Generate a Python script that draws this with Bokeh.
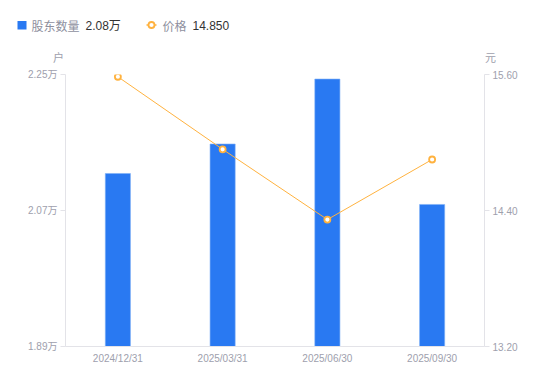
from bokeh.plotting import figure
from bokeh.layouts import column, row
from bokeh.models import (FactorRange, Range1d, LinearAxis, FixedTicker, NumeralTickFormatter)
from bokeh.embed import file_html
from bokeh.resources import INLINE
from bokeh.core.properties import value

dates = ["2024/12/31", "2025/03/31", "2025/06/30", "2025/09/30"]
holders = [2.119, 2.158, 2.244, 2.078]   # 万户
price = [15.58, 14.94, 14.32, 14.85]     # 元
left_ticks = [1.89, 2.07, 2.25]
right_ticks = [13.20, 14.40, 15.60]
series_names = ["股东数量", "价格"]
units = ["户", "元"]

BLUE = "#2979f2"
ORANGE = "#ffb23f"
GREY = "#9ea0ad"
AXIS = "#e3e3e8"
NUM_FONT = "Liberation Sans, Noto Sans CJK SC"
CJK_FONT = "Noto Sans CJK SC"

# ---------- header (legend + unit labels), pixel coordinates ----------
H_TOP = 66
hdr = figure(width=550, height=H_TOP, x_range=Range1d(0, 550), y_range=Range1d(H_TOP, 0),
             x_axis_type=None, y_axis_type=None, output_backend="svg", toolbar_location=None,
             min_border=0)
hdr.outline_line_color = None
hdr.xgrid.visible = False
hdr.ygrid.visible = False

hdr.quad(left=[17], right=[26], top=[20.5], bottom=[29], fill_color=BLUE, line_color=None)
hdr.text(x=[31], y=[25], text=[series_names[0]], text_baseline="middle",
         text_font=value(CJK_FONT), text_font_size="12px", text_color="#8e909e")
hdr.text(x=[85], y=[25], text=[f"{holders[-1]:.2f}万"], text_baseline="middle",
         text_font=value(NUM_FONT), text_font_size="12px", text_color="#333333")
hdr.segment(x0=[146], y0=[24.5], x1=[156], y1=[24.5], line_color=ORANGE, line_width=1.5)
hdr.scatter(x=[151], y=[24.5], size=6, marker="circle", fill_color="white",
            line_color=ORANGE, line_width=1.8)
hdr.text(x=[162], y=[25], text=[series_names[1]], text_baseline="middle",
         text_font=value(CJK_FONT), text_font_size="12px", text_color="#8e909e")
hdr.text(x=[192], y=[25], text=[f"{price[-1]:.3f}"], text_baseline="middle",
         text_font=value(NUM_FONT), text_font_size="12px", text_color="#333333")
hdr.text(x=[58, 490], y=[56.5, 56.5], text=units, text_align="center", text_baseline="middle",
         text_font=value(CJK_FONT), text_font_size="11px", text_color=GREY)

# ---------- main chart ----------
p = figure(width=550, height=381 - H_TOP, x_range=FactorRange(factors=dates, range_padding=0),
           y_range=Range1d(left_ticks[0], left_ticks[-1]),
           output_backend="svg", toolbar_location=None,
           min_border_left=65, min_border_right=66, min_border_top=74 - H_TOP,
           min_border_bottom=35)
p.extra_y_ranges = {"price": Range1d(right_ticks[0], right_ticks[-1])}
p.outline_line_color = None
p.xgrid.grid_line_color = None
p.ygrid.grid_line_color = None

bars = p.vbar(x=dates, top=holders, bottom=left_ticks[0], width=0.24,
              fill_color=BLUE, line_color="#7fb0f7", line_width=0.6)
p.line(x=dates, y=price, y_range_name="price", line_color=ORANGE, line_width=1)
p.scatter(x=dates, y=price, y_range_name="price", size=6, marker="circle",
          fill_color="white", line_color=ORANGE, line_width=1.8)

ya = p.yaxis[0]
ya.ticker = FixedTicker(ticks=left_ticks)
ya.major_label_overrides = {t: f"{t:.2f}万" for t in left_ticks}

ra = LinearAxis(y_range_name="price", ticker=FixedTicker(ticks=right_ticks),
                formatter=NumeralTickFormatter(format="0.00"))
p.add_layout(ra, "right")

for ax in (ya, ra):
    ax.axis_line_color = AXIS
    ax.major_tick_line_color = AXIS
    ax.major_tick_out = 5
    ax.major_tick_in = 0
    ax.minor_tick_line_color = None
    ax.major_label_text_color = GREY
    ax.major_label_text_font_size = "10px"
    ax.major_label_text_font = NUM_FONT
    ax.major_label_standoff = 3

xa = p.xaxis[0]
xa.axis_line_color = AXIS
xa.major_tick_line_color = None
xa.major_tick_out = 0
xa.major_tick_in = 0
xa.minor_tick_line_color = None
xa.major_label_text_color = GREY
xa.major_label_text_font_size = "10px"
xa.major_label_text_font = NUM_FONT
xa.major_label_standoff = 6

layout = column(row(hdr), row(p), spacing=0)
open("out.html", "w").write(file_html(layout, INLINE))
